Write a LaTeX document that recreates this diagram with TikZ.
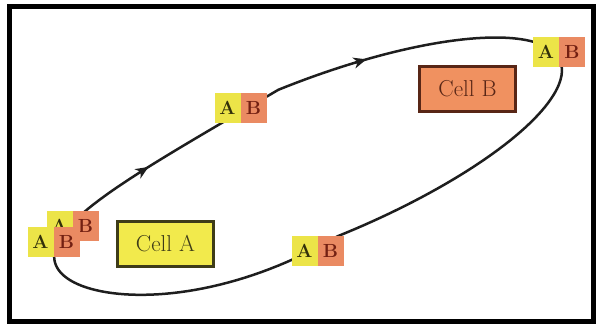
\documentclass[tikz,border=0pt]{standalone}
\usetikzlibrary{arrows.meta}

\definecolor{ayellow}{RGB}{236,228,72}
\definecolor{bsalmon}{RGB}{234,138,98}
\definecolor{atext}{RGB}{50,48,10}
\definecolor{btext}{RGB}{115,32,18}
\definecolor{cellafill}{RGB}{242,234,76}
\definecolor{cellaedge}{RGB}{62,60,24}
\definecolor{cellbfill}{RGB}{240,145,96}
\definecolor{cellbedge}{RGB}{88,38,22}
\definecolor{linecol}{RGB}{30,30,30}

\begin{document}
\begin{tikzpicture}[x=1pt,y=1pt,
  cellbox/.style={draw, line width=3pt, minimum width=96pt, minimum height=45pt,
    inner sep=0pt, font=\fontsize{23}{25}\selectfont},
  sq/.style={minimum width=26pt, minimum height=30pt, inner sep=0pt,
    font=\fontsize{19}{21}\selectfont\bfseries},
  asq/.style={sq, fill=ayellow, text=atext},
  bsq/.style={sq, fill=bsalmon, text=btext},
  loopline/.style={draw=linecol, line width=2.5pt},
  looptip/.style={loopline, -{Stealth[length=13pt,width=11pt,inset=4pt]}},
  % a slightly bent, tilted oval: parameter in degrees
  declare function={
    lu(\t)=272*cos(\t);
    lv(\t)=79*sin(\t)+min(0,40*cos(\t)*(1+cos(\t)));
    lx(\t)=308+lu(\t)*cos(22)-lv(\t)*sin(22);
    ly(\t)=162+lu(\t)*sin(22)+lv(\t)*cos(22);
  },
]
\useasboundingbox (0,0) rectangle (597,325);

% outer frame
\draw[line width=5pt] (9.5,3.5) rectangle (593.5,318.5);

% the closed loop
\draw[loopline, line join=round]
  plot[domain=0:358, samples=180] ({lx(\x)},{ly(\x)}) -- cycle;

% direction arrows on the upper side of the loop
\coordinate (arrowOneFrom) at ({lx(126)},{ly(126)});
\coordinate (arrowOneTo)   at ({lx(123.3)},{ly(123.3)});
\coordinate (arrowTwoFrom) at ({lx(72.5)},{ly(72.5)});
\coordinate (arrowTwoTo)   at ({lx(70)},{ly(70)});
\draw[looptip] (arrowOneFrom) -- (arrowOneTo);
\draw[looptip] (arrowTwoFrom) -- (arrowTwoTo);

% the two cells
\node[cellbox, fill=cellafill, draw=cellaedge, text=cellaedge] (cellA) at (165.5,81) {Cell A};
\node[cellbox, fill=cellbfill, draw=cellbedge, text=cellbedge] (cellB) at (467.5,236.5) {Cell B};

% A/B pairs along the loop
\node[asq] (trA) at (546,273.5) {A};
\node[bsq] (trB) at (572,273.5) {B};

\node[asq] (umA) at (227.5,217) {A};
\node[bsq] (umB) at (253.5,217) {B};

\node[asq] (loA) at (304.5,74) {A};
\node[bsq] (loB) at (330.5,74) {B};

% stacked pairs at the left
\node[asq] (bkA) at (59.5,99) {A};
\node[bsq] (bkB) at (85.5,99) {B};
\node[asq] (frA) at (40.5,83) {A};
\node[bsq] (frB) at (66.5,83) {B};

\end{tikzpicture}
\end{document}
